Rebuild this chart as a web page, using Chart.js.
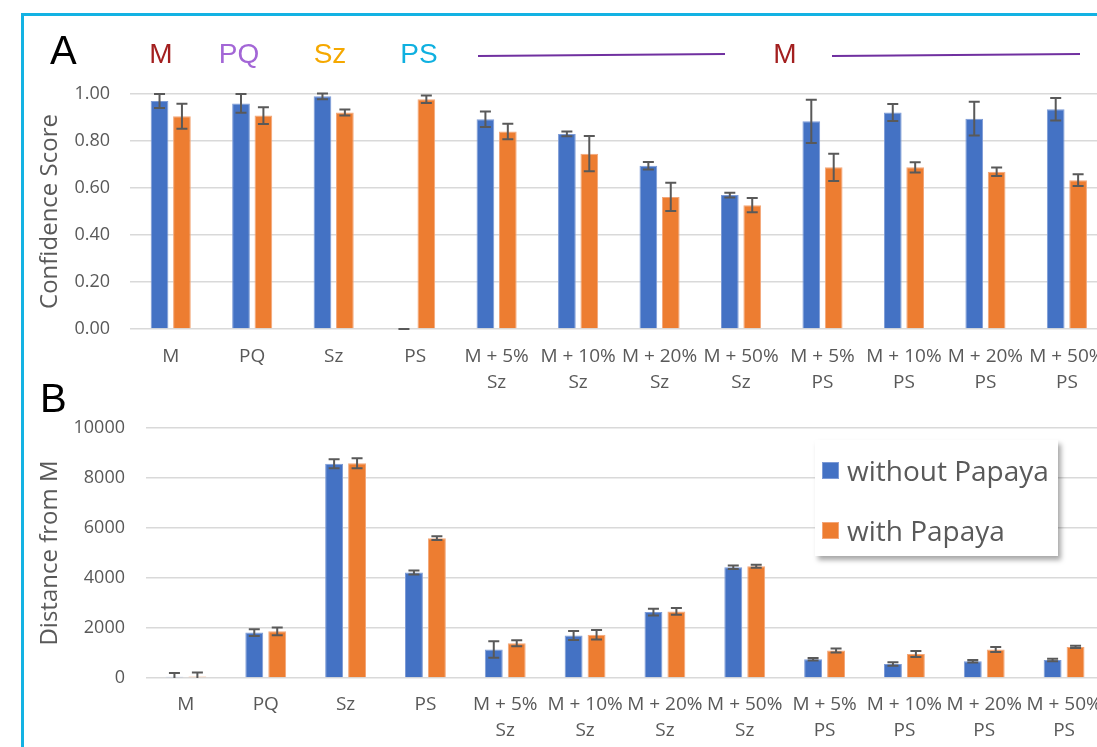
<!DOCTYPE html>
<html>
<head>
<meta charset="utf-8">
<script src="https://cdn.jsdelivr.net/npm/chart.js@4.4.1/dist/chart.umd.min.js"></script>
<style>
  html, body { margin: 0; padding: 0; background: #fff; overflow: hidden; }
  #page { position: relative; width: 1097px; height: 747px; overflow: hidden; background: #fff; }
  .frame { position: absolute; left: 21px; top: 13px; width: 1300px; height: 900px;
           border-top: 3px solid #13b2e3; border-left: 3px solid #13b2e3; box-sizing: border-box; }
  .panel { position: absolute; left: 0; width: 1120px; }
  #wrapA { top: 0; height: 395px; }
  #wrapB { top: 395px; height: 352px; }
  .tag { position: absolute; font-family: "Liberation Sans", Arial, sans-serif; line-height: 1; white-space: nowrap; }
  .letter { font-size: 40px; color: #000; }
  .grp { font-size: 28px; transform: translateX(-50%); }
  #legend { position: absolute; left: 815px; top: 440px; width: 243px; height: 116px; background: #fff;
            box-shadow: 3px 4px 5px rgba(0,0,0,0.35); font-family: "Open Sans", sans-serif; color: #595959; }
  #legend .item { position: absolute; left: 7px; height: 30px; display: flex; align-items: center; font-size: 28px; line-height: 30px; white-space: nowrap; }
  #legend .sw { width: 17px; height: 17px; box-sizing: border-box; margin-right: 8px; flex: none; }
</style>
</head>
<body>
<div id="page">
  <div class="frame"></div>
  <div class="panel" id="wrapA"><canvas id="chartA"></canvas></div>
  <div class="panel" id="wrapB"><canvas id="chartB"></canvas></div>

  <div class="tag letter" style="left:50px; top:30px;">A</div>
  <div class="tag letter" style="left:40px; top:378px;">B</div>
  <div class="tag grp" style="left:161px; top:40px; color:#a31f1f;">M</div>
  <div class="tag grp" style="left:239px; top:40px; color:#a366d6;">PQ</div>
  <div class="tag grp" style="left:330px; top:40px; color:#f5a800;">Sz</div>
  <div class="tag grp" style="left:419px; top:40px; color:#0fb0e0;">PS</div>
  <div class="tag grp" style="left:785px; top:40px; color:#a31f1f;">M</div>
  <svg style="position:absolute;left:0;top:0;" width="1097" height="80">
    <line x1="478" y1="56" x2="725" y2="54" stroke="#7030a0" stroke-width="2"/>
    <line x1="832" y1="56" x2="1080" y2="54" stroke="#7030a0" stroke-width="2"/>
  </svg>

  <div id="legend"></div>
</div>

<script>
// Category labels shared by both panels
const categories = ['M', 'PQ', 'Sz', 'PS',
  ['M + 5%', 'Sz'], ['M + 10%', 'Sz'], ['M + 20%', 'Sz'], ['M + 50%', 'Sz'],
  ['M + 5%', 'PS'], ['M + 10%', 'PS'], ['M + 20%', 'PS'], ['M + 50%', 'PS']];

const seriesNames = ['without Papaya', 'with Papaya'];
const seriesColors = ['#4472c4', '#ed7d31'];
const seriesEdges = ['#7d9bd6', '#f3a779'];

// Panel A: confidence score (mean and error)
const confWithout    = [0.970, 0.960, 0.990, 0.000, 0.893, 0.830, 0.695, 0.570, 0.884, 0.921, 0.895, 0.935];
const confWithoutErr = [0.030, 0.040, 0.012, 0.000, 0.033, 0.010, 0.016, 0.010, 0.092, 0.036, 0.072, 0.048];
const confWith       = [0.905, 0.908, 0.921, 0.978, 0.840, 0.746, 0.562, 0.527, 0.688, 0.688, 0.669, 0.633];
const confWithErr    = [0.053, 0.036, 0.013, 0.016, 0.033, 0.075, 0.060, 0.030, 0.058, 0.022, 0.018, 0.025];
const confTicks = [0, 0.2, 0.4, 0.6, 0.8, 1.0];

// Panel B: distance from M (mean and error)
const distWithout    = [50, 1820, 8570, 4220, 1140, 1700, 2640, 4430, 750, 560, 670, 720];
const distWithoutErr = [150, 135, 180, 80, 330, 180, 135, 67, 54, 67, 54, 54];
const distWith       = [60, 1870, 8595, 5595, 1390, 1730, 2665, 4470, 1100, 965, 1140, 1245];
const distWithErr    = [160, 155, 200, 75, 120, 187, 134, 60, 80, 120, 100, 47];
const distTicks = [0, 2000, 4000, 6000, 8000, 10000];

const yTickFont = { family: 'Open Sans', size: 18 };
const xTickFont = { family: 'Open Sans', size: 19, lineHeight: 1.35 };
const textColor = '#595959';

// Draws symmetric error bars on top of each bar, using the y scale of the chart
const errorBars = {
  id: 'errorBars',
  afterDatasetsDraw(chart) {
    const { ctx } = chart;
    const y = chart.scales.y;
    ctx.save();
    ctx.strokeStyle = '#595959';
    ctx.lineWidth = 2;
    chart.data.datasets.forEach((ds, i) => {
      const meta = chart.getDatasetMeta(i);
      meta.data.forEach((bar, j) => {
        const v = ds.data[j], e = ds.errors[j];
        const hi = v + e, lo = Math.max(v - e, y.min);
        const yT = y.getPixelForValue(hi), yB = y.getPixelForValue(lo);
        const x = bar.x, h = 5.5;
        ctx.beginPath();
        ctx.moveTo(x, yT); ctx.lineTo(x, yB);
        ctx.moveTo(x - h, yT); ctx.lineTo(x + h, yT);
        if (v - e >= y.min) { ctx.moveTo(x - h, yB); ctx.lineTo(x + h, yB); }
        ctx.stroke();
      });
    });
    ctx.restore();
  }
};

function makeChart(id, opts) {
  const datasets = [opts.without, opts.withP].map((vals, i) => ({
    label: seriesNames[i],
    data: vals,
    errors: i === 0 ? opts.withoutErr : opts.withErr,
    backgroundColor: seriesColors[i],
    borderColor: seriesEdges[i],
    borderWidth: 1,
    categoryPercentage: opts.catPct,
    barPercentage: opts.barPct
  }));
  return new Chart(document.getElementById(id), {
    type: 'bar',
    data: { labels: categories, datasets },
    plugins: [errorBars],
    options: {
      responsive: true,
      maintainAspectRatio: false,
      animation: false,
      events: [],
      layout: { padding: { left: 0, right: opts.padRight, top: opts.padTop, bottom: 0 } },
      plugins: { legend: { display: false }, tooltip: { enabled: false } },
      scales: {
        x: {
          grid: { display: false, drawTicks: false },
          border: { display: false },
          ticks: { font: xTickFont, color: textColor, padding: opts.xPad, maxRotation: 0, autoSkip: false },
          afterFit(s) { s.height = opts.xHeight; }
        },
        y: {
          min: opts.ticks[0],
          max: opts.ticks[opts.ticks.length - 1],
          afterBuildTicks(s) { s.ticks = opts.ticks.map(v => ({ value: v })); },
          grid: { color: '#d9d9d9', lineWidth: 1.5, drawTicks: false },
          border: { display: false },
          ticks: { font: yTickFont, color: textColor, padding: opts.yPad, callback: opts.fmt },
          title: { display: true, text: opts.title, color: textColor,
                   font: { family: 'Open Sans', size: 24 }, padding: { top: 36, bottom: 0 } },
          afterFit(s) { s.width = opts.yWidth; }
        }
      }
    }
  });
}

makeChart('chartA', {
  without: confWithout, withoutErr: confWithoutErr, withP: confWith, withErr: confWithErr,
  ticks: confTicks, fmt: v => Number(v).toFixed(2), title: 'Confidence Score',
  padTop: 94, padRight: 11, xHeight: 66, yWidth: 130, yPad: 20, xPad: 15,
  catPct: 0.55, barPct: 0.79
});

makeChart('chartB', {
  without: distWithout, withoutErr: distWithoutErr, withP: distWith, withErr: distWithErr,
  ticks: distTicks, fmt: v => String(v), title: 'Distance from M',
  padTop: 33, padRight: 16, xHeight: 69, yWidth: 146, yPad: 21, xPad: 14,
  catPct: 0.575, barPct: 0.78
});

// Legend for the distance panel, built from the series names and colours
const legend = document.getElementById('legend');
seriesNames.forEach((name, i) => {
  const item = document.createElement('div');
  item.className = 'item';
  item.style.top = (i === 0 ? 15 : 75) + 'px';
  const sw = document.createElement('span');
  sw.className = 'sw';
  sw.style.background = seriesColors[i];
  sw.style.border = '1px solid ' + seriesEdges[i];
  item.appendChild(sw);
  item.appendChild(document.createTextNode(name));
  legend.appendChild(item);
});
</script>
</body>
</html>
